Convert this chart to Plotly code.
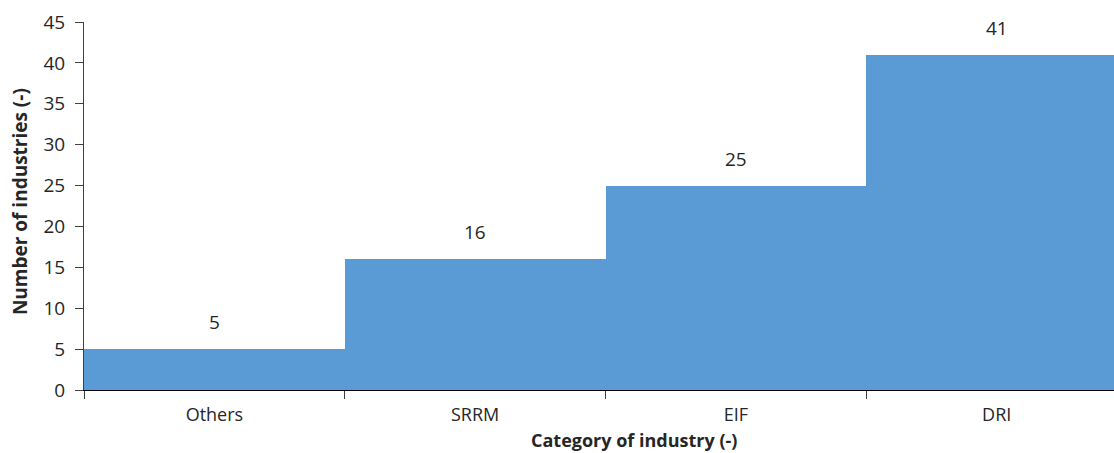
import plotly.graph_objects as go

categories = ["Others", "SRRM", "EIF", "DRI"]
counts = [5, 16, 25, 41]
y_ticks = [0, 5, 10, 15, 20, 25, 30, 35, 40, 45]

FONT = "Open Sans, Noto Sans, Liberation Sans, sans-serif"
TEXT = "#262626"
BAR = "#5B9BD5"

fig = go.Figure(
    go.Bar(
        x=categories,
        y=counts,
        width=1.0,
        marker=dict(color=BAR, line=dict(width=0)),
        hoverinfo="skip",
    )
)

# value labels above each bar
for cat, val in zip(categories, counts):
    fig.add_annotation(
        x=cat, y=val, text=str(val), showarrow=False,
        yanchor="bottom", yshift=12,
        font=dict(family=FONT, size=19, color=TEXT),
    )

# axis titles
fig.add_annotation(
    xref="paper", yref="paper", x=0.534, y=-0.137,
    xanchor="center", yanchor="middle", showarrow=False, borderpad=0,
    text="<b>Category of industry (-)</b>",
    font=dict(family=FONT, size=18, color=TEXT),
)
fig.add_annotation(
    xref="paper", yref="paper", x=-0.0626, y=0.512,
    xanchor="center", yanchor="middle", showarrow=False, textangle=-90,
    text="<b>Number of industries (-)</b>",
    font=dict(family=FONT, size=19, color=TEXT),
)

fig.update_layout(
    width=1114, height=453,
    margin=dict(l=84, r=0, t=22, b=63),
    paper_bgcolor="white", plot_bgcolor="white",
    showlegend=False,
    bargap=0,
    font=dict(family=FONT, size=19, color=TEXT),
)

fig.update_xaxes(
    type="category",
    range=[-0.5, 3.45],
    tickson="boundaries",
    ticks="outside", ticklen=8, tickcolor="#404040", tickwidth=1,
    ticklabelstandoff=8,
    showline=True, linecolor="#000000", linewidth=1,
    showgrid=False, zeroline=False,
    tickfont=dict(family=FONT, size=18, color=TEXT),
)

fig.update_yaxes(
    range=[0, 45],
    tickvals=y_ticks,
    ticks="outside", ticklen=8, tickcolor="#404040", tickwidth=1,
    ticklabelstandoff=6,
    showline=True, linecolor="#404040", linewidth=1,
    showgrid=False, zeroline=False,
    tickfont=dict(family=FONT, size=19, color=TEXT),
)

fig.write_html("out.html")
